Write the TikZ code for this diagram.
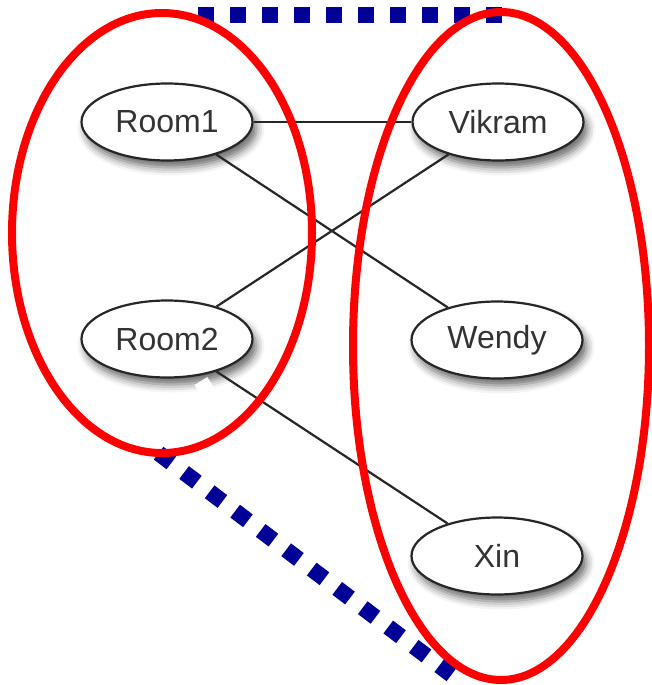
\documentclass[tikz,border=0pt]{standalone}
\usepackage{fontspec}
\setmainfont{Liberation Sans}
\usetikzlibrary{shapes.geometric,shadows.blur}
\definecolor{navy}{RGB}{0,0,150}
\begin{document}
\begin{tikzpicture}[x=1pt,y=-1pt,
 person/.style={ellipse, draw=black!85, line width=2.2pt, fill=white,
   minimum width=171pt, minimum height=77pt, inner sep=0pt,
   font=\fontsize{32}{38}\selectfont, text=black!80,
   blur shadow={shadow xshift=4pt, shadow yshift=-7pt, shadow blur radius=8pt, shadow opacity=60}},
 link/.style={draw=black!85, line width=2.2pt},
 group/.style={draw=red, line width=8pt},
 dotline/.style={draw=navy, line width=16pt, dash pattern=on 16pt off 16pt},
 whitebar/.style={draw=white, line width=15pt}]
\useasboundingbox (0,0) rectangle (651,685);
\node[person] (r1) at (167,122) {Room1};
\node[person] (r2) at (167,339) {Room2};
\node[person] (vi) at (498,122) {Vikram};
\node[person] (we) at (497,340) {Wendy};
\node[person] (xi) at (497,556) {Xin};
\draw[link] (r1) -- (vi);
\draw[link] (r1) -- (we);
\draw[link] (r2) -- (vi);
\draw[link] (r2) -- (xi);
\coordinate (wa) at (201,381);
\coordinate (wb) at (230,428);
\draw[whitebar] (wa) -- (wb);
\coordinate (ta) at (198,15);
\coordinate (tb) at (503,15);
\draw[dotline] (ta) -- (tb);
\coordinate (da) at (158.6,453.2);
\coordinate (db) at (451.4,674.8);
\draw[dotline] (da) -- (db);
\draw[group] (162,233) ellipse [x radius=150pt, y radius=220pt];
\draw[group] (501,346) ellipse [x radius=148pt, y radius=334pt];
\end{tikzpicture}
\end{document}
